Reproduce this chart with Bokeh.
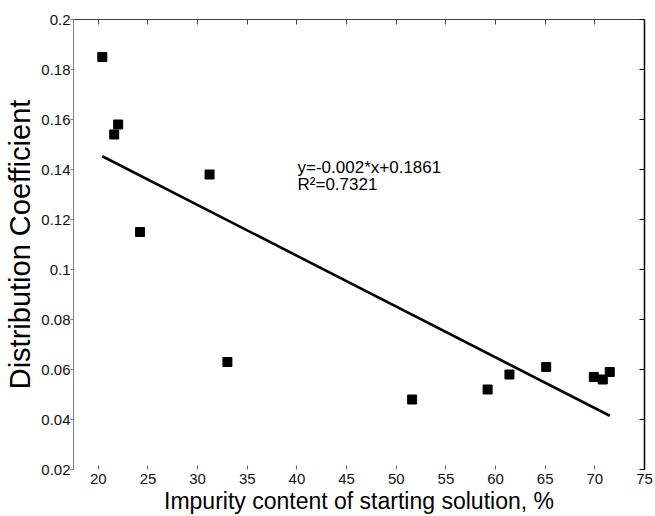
import math
from bokeh.plotting import figure
from bokeh.models import LinearAxis, FixedTicker, Label, Range1d, ColumnDataSource
from bokeh.embed import file_html
from bokeh.resources import INLINE

# ---- data ----
impurity_pct = [20.4, 21.6, 22.0, 24.2, 31.2, 33.0, 51.6, 59.2, 61.4, 65.1, 69.9, 70.8, 71.5]
dist_coeff = [0.185, 0.154, 0.158, 0.115, 0.138, 0.063, 0.048, 0.052, 0.058, 0.061, 0.057, 0.056, 0.059]

fit_x = [20.4, 71.5]
fit_y = [0.1453, 0.0415]

x_ticks = [20, 25, 30, 35, 40, 45, 50, 55, 60, 65, 70, 75]
x_tick_labels = ["20", "25", "30", "35", "40", "45", "50", "55", "60", "65", "70", "75"]
y_ticks = [0.02, 0.04, 0.06, 0.08, 0.1, 0.12, 0.14, 0.16, 0.18, 0.2]
y_tick_labels = ["0.02", "0.04", "0.06", "0.08", "0.1", "0.12", "0.14", "0.16", "0.18", "0.2"]

x_title = "Impurity content of starting solution, %"
y_title = "Distribution Coefficient"
eq_text = "y=-0.002*x+0.1861"
r2_text = "R\u00b2=0.7321"

FONT = "Liberation Sans"

p = figure(width=655, height=516,
           x_range=Range1d(17.5, 75), y_range=Range1d(0.02, 0.2),
           output_backend="svg", toolbar_location=None,
           min_border_left=73, min_border_right=11,
           min_border_top=19, min_border_bottom=47,
           outline_line_color=None,
           background_fill_color="white", border_fill_color="white")
p.grid.visible = False

# bottom axis
xa = p.xaxis[0]
xa.ticker = FixedTicker(ticks=x_ticks)
xa.major_label_overrides = {t: l for t, l in zip(x_ticks, x_tick_labels)}
xa.axis_line_color = None
xa.major_tick_in = 4
xa.major_tick_out = 0
xa.major_tick_line_color = "#666666"
xa.minor_tick_line_color = None
xa.major_label_standoff = 4
xa.major_label_text_font = FONT
xa.major_label_text_font_size = "15px"
xa.major_label_text_color = "#111111"
xa.axis_label = x_title
xa.axis_label_standoff = 1
xa.axis_label_text_font = FONT
xa.axis_label_text_font_style = "normal"
xa.axis_label_text_font_size = "23px"
xa.axis_label_text_color = "black"

# left axis
ya = p.yaxis[0]
ya.ticker = FixedTicker(ticks=y_ticks)
ya.major_label_overrides = {t: l for t, l in zip(y_ticks, y_tick_labels)}
ya.axis_line_color = "#808080"
ya.major_tick_line_color = "#808080"
ya.major_tick_in = 0
ya.major_tick_out = 3
ya.minor_tick_line_color = None
ya.major_label_standoff = 0
ya.major_label_text_font = FONT
ya.major_label_text_font_size = "15px"
ya.major_label_text_color = "#111111"
ya.axis_label = y_title
ya.axis_label_standoff = 2
ya.axis_label_text_font = FONT
ya.axis_label_text_font_style = "normal"
ya.axis_label_text_font_size = "29px"
ya.axis_label_text_color = "black"

# top and right frame axes (ticks only)
top = LinearAxis(ticker=FixedTicker(ticks=x_ticks),
                 major_label_overrides={t: "" for t in x_ticks},
                 axis_line_color="#444444", major_tick_line_color="#444444",
                 major_tick_in=5, major_tick_out=0, minor_tick_line_color=None)
p.add_layout(top, "above")
right = LinearAxis(ticker=FixedTicker(ticks=y_ticks),
                   major_label_overrides={t: "" for t in y_ticks},
                   axis_line_color="black", axis_line_width=1.5,
                   major_tick_line_color="black",
                   major_tick_in=5, major_tick_out=0, minor_tick_line_color=None)
p.add_layout(right, "right")

# data
src = ColumnDataSource(dict(x=impurity_pct, y=dist_coeff))
p.line(fit_x, fit_y, line_color="black", line_width=2.6)
p.scatter("x", "y", source=src, marker="square", size=9,
          fill_color="black", line_color="black")

# equation text
p.add_layout(Label(x=40.06, y=0.1408, text=eq_text, text_font=FONT,
                   text_font_size="17px", text_baseline="alphabetic",
                   text_color="black"))
p.add_layout(Label(x=40.06, y=0.1340, text=r2_text, text_font=FONT,
                   text_font_size="17px", text_baseline="alphabetic",
                   text_color="black"))

open("out.html", "w").write(file_html(p, INLINE))
